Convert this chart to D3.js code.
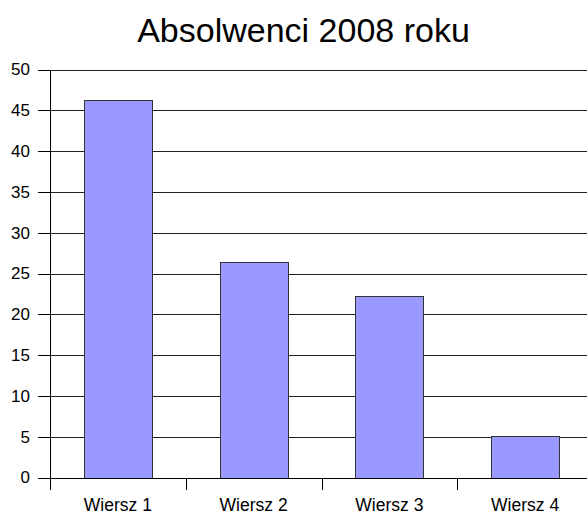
<!DOCTYPE html>
<html lang="pl">
<head>
<meta charset="UTF-8">
<title>Absolwenci 2008 roku</title>
<script src="https://d3js.org/d3.v7.min.js"></script>
<style>
    html, body { margin: 0; padding: 0; background: #fff; }
    svg { display: block; font-family: "Liberation Sans", Arial, sans-serif; }
    .axis path, .axis line { stroke: #000; shape-rendering: crispEdges; }
    .grid line { stroke: #222; shape-rendering: crispEdges; }
    .grid path { display: none; }
    .bar { fill: #9999ff; stroke: #333; stroke-width: 1; shape-rendering: crispEdges; }
</style>
</head>
<body>
<svg width="587" height="515"></svg>
<script>
    const categories = ["Wiersz 1", "Wiersz 2", "Wiersz 3", "Wiersz 4"];
    const values = [46.3, 26.4, 22.2, 5.1];
    const yTicks = [0, 5, 10, 15, 20, 25, 30, 35, 40, 45, 50];
    const title = "Absolwenci 2008 roku";

    const width = 587, height = 515;
    const margin = { top: 69.5, right: -6, bottom: 37.5, left: 50 };
    const plotRight = width - margin.right;
    const plotBottom = height - margin.bottom;

    const svg = d3.select("svg");

    const x = d3.scaleBand()
        .domain(categories)
        .range([margin.left, plotRight])
        .paddingInner(0.5)
        .paddingOuter(0.25);

    const y = d3.scaleLinear()
        .domain([0, 50])
        .range([plotBottom, margin.top]);

    // gridlines
    svg.append("g")
        .attr("class", "grid")
        .attr("transform", `translate(${margin.left},0)`)
        .call(d3.axisLeft(y).tickValues(yTicks).tickSize(-(plotRight - margin.left)).tickFormat(""));

    // bars
    svg.selectAll(".bar")
        .data(categories.map((c, i) => ({ c, v: values[i] })))
        .join("rect")
        .attr("class", "bar")
        .attr("x", d => Math.round(x(d.c)) + 0.5)
        .attr("y", d => Math.round(y(d.v)) + 0.5)
        .attr("width", Math.round(x.bandwidth()))
        .attr("height", d => Math.round(plotBottom) - Math.round(y(d.v)));

    // y axis
    const yAxis = svg.append("g")
        .attr("class", "axis")
        .attr("transform", `translate(${margin.left},0)`)
        .call(d3.axisLeft(y).tickValues(yTicks).tickSize(12).tickPadding(8).tickSizeOuter(0));
    yAxis.selectAll("text").style("font-size", "17px").attr("fill", "#000");

    // x axis with labels
    const xAxis = svg.append("g")
        .attr("class", "axis")
        .attr("transform", `translate(0,${plotBottom})`)
        .call(d3.axisBottom(x).tickSize(0).tickSizeOuter(0));
    xAxis.selectAll("text")
        .attr("y", 33).attr("dy", 0)
        .style("font-size", "17.5px").attr("fill", "#000");

    // tick marks between categories
    const step = x.step();
    const bounds = categories.map(c => x(c) - step * x.paddingOuter()).concat([plotRight]);
    svg.append("g")
        .selectAll("line")
        .data(bounds)
        .join("line")
        .attr("x1", d => Math.round(d) + 0.5)
        .attr("x2", d => Math.round(d) + 0.5)
        .attr("y1", plotBottom)
        .attr("y2", plotBottom + 12)
        .attr("stroke", "#000")
        .style("shape-rendering", "crispEdges");

    // title
    svg.append("text")
        .attr("x", 303.5)
        .attr("y", 41.5)
        .attr("text-anchor", "middle")
        .style("font-size", "34px")
        .attr("fill", "#000")
        .text(title);
</script>
</body>
</html>
